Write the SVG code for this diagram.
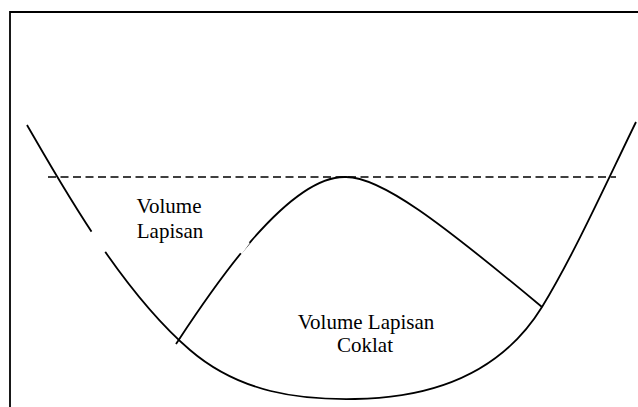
<svg xmlns="http://www.w3.org/2000/svg" width="638" height="407" viewBox="0 0 638 407">
<style>
.ln{fill:none;stroke:#000;stroke-width:1.8}
.gap{fill:none;stroke:#fff;stroke-width:7}
.dash{fill:none;stroke:#000;stroke-width:1.6;stroke-dasharray:8 4.5}
.t{font-family:"Liberation Serif","Times New Roman",serif;font-size:21px;fill:#000;text-anchor:middle}
</style>
<rect width="638" height="407" fill="#fff"/>
<g id="frame">
<path class="ln" d="M10,407 V12 H640" stroke-width="2"/>
</g>
<g id="connectors">
<path id="outer" class="ln" d="M27,125 C60,182 120,290 190,350 C240,393 300,400 355,399 C430,398 500,375 542,307 C575,253 610,175 636,122"/>
<path id="inner" class="ln" d="M176,344 C205,300 285,176 345,177 C380,176 440,222 542,307"/>
<line class="gap" x1="91" y1="232" x2="105" y2="252"/>
<line class="gap" x1="239" y1="252" x2="247" y2="241"/>
<line id="level" class="dash" x1="48" y1="177" x2="616" y2="177"/>
</g>
<g id="label-lapisan">
<text class="t" x="169" y="213">Volume</text>
<text class="t" x="170" y="238">Lapisan</text>
</g>
<g id="label-coklat">
<text class="t" x="366" y="329">Volume Lapisan</text>
<text class="t" x="365" y="352">Coklat</text>
</g>
</svg>
